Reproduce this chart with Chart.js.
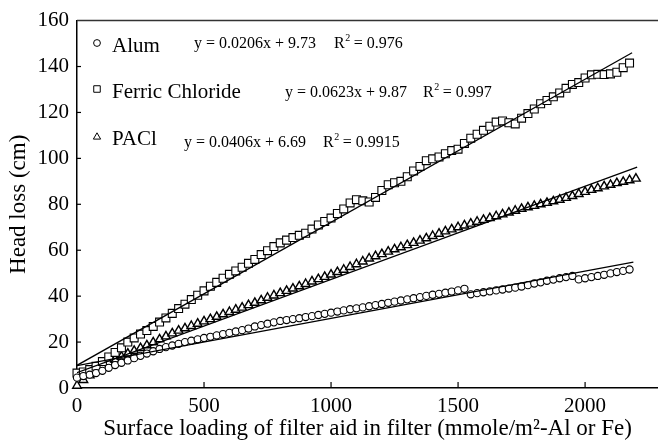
<!DOCTYPE html>
<html lang="en">
<head>
    <meta charset="UTF-8">
    <title>Head loss vs surface loading</title>
    <script src="https://cdn.jsdelivr.net/npm/chart.js"></script>
    <style>
        body { margin: 0; background: #fff; }
        #wrap { width: 658px; height: 446px; }
    </style>
</head>
<body>
    <div id="wrap"><canvas id="chart" width="658" height="446"></canvas></div>

    <script>
        // surface loading (mmole/m2) where readings were taken
        const loading = [
            0, 25, 50, 75, 100, 125, 150, 175,
            200, 225, 250, 275, 300, 325, 350, 375,
            400, 425, 450, 475, 500, 525, 550, 575,
            600, 625, 650, 675, 700, 725, 750, 775,
            800, 825, 850, 875, 900, 925, 950, 975,
            1000, 1025, 1050, 1075, 1100, 1125, 1150, 1175,
            1200, 1225, 1250, 1275, 1300, 1325, 1350, 1375,
            1400, 1425, 1450, 1475, 1500, 1525, 1550, 1575,
            1600, 1625, 1650, 1675, 1700, 1725, 1750, 1775,
            1800, 1825, 1850, 1875, 1900, 1925, 1950, 1975,
            2000, 2025, 2050, 2075, 2100, 2125, 2150, 2175,
            2200
        ];

        // head loss (cm)
        const alum = [
            4.5, 5.2, 5.8, 6.5, 7.5, 8.8, 10.0, 11.0,
            12.0, 13.0, 14.0, 15.0, 16.0, 17.0, 17.8, 18.5,
            19.2, 20.0, 20.6, 21.2, 21.8, 22.3, 22.9, 23.5,
            24.0, 24.6, 25.2, 25.9, 26.8, 27.4, 28.0, 28.6,
            29.2, 29.6, 30.0, 30.4, 30.9, 31.3, 31.8, 32.3,
            32.8, 33.3, 33.8, 34.3, 34.7, 35.1, 35.6, 36.1,
            36.6, 37.1, 37.6, 38.1, 38.6, 39.1, 39.6, 40.1,
            40.6, 41.0, 41.5, 42.0, 42.5, 43.2, 40.8, 41.3,
            41.7, 42.1, 42.5, 42.9, 43.3, 43.7, 44.2, 44.8,
            45.5, 46.0, 46.7, 47.2, 47.8, 48.3, 48.8, 47.3,
            47.8, 48.3, 48.8, 49.3, 49.9, 50.5, 51.0, 51.6,
            null
        ];
        const ferric = [
            6.5, 7.0, 8.0, 9.5, 11.5, 13.5, 15.5, 17.5,
            20.0, 21.8, 23.5, 25.0, 26.8, 28.7, 30.5, 32.5,
            34.6, 36.5, 38.5, 40.4, 42.3, 44.3, 46.0, 47.8,
            49.5, 51.0, 52.6, 54.3, 56.0, 58.1, 59.8, 61.6,
            63.2, 64.4, 65.5, 66.5, 67.4, 69.2, 71.0, 72.5,
            74.0, 76.0, 78.0, 80.6, 82.0, 81.5, 81.0, 83.0,
            86.0, 88.5, 89.4, 90.0, 92.0, 94.5, 96.5, 99.0,
            99.8, 100.6, 102.0, 103.4, 104.0, 106.5, 108.8, 110.5,
            112.2, 114.0, 115.8, 116.3, 115.5, 115.0, 117.5, 119.5,
            121.5, 123.8, 125.2, 126.8, 128.5, 130.5, 132.2, 133.0,
            135.0, 136.4, 136.6, 136.5, 136.8, 137.5, 139.5, 141.5,
            null
        ];
        const pacl = [
            1.0, 3.5, 5.5, 7.5, 9.5, 11.0, 12.4, 13.7,
            15.0, 16.2, 17.4, 18.6, 19.9, 21.2, 22.5, 23.8,
            25.0, 26.0, 27.0, 28.0, 29.0, 30.0, 31.0, 32.1,
            33.1, 34.1, 35.0, 36.1, 37.1, 38.2, 39.3, 40.3,
            41.3, 42.3, 43.3, 44.3, 45.3, 46.4, 47.4, 48.4,
            49.4, 50.5, 51.5, 52.7, 53.9, 55.1, 56.4, 57.4,
            58.3, 59.4, 60.4, 61.3, 62.2, 63.2, 64.2, 65.2,
            66.2, 67.2, 68.2, 69.1, 70.0, 70.8, 71.6, 72.4,
            73.2, 74.0, 74.8, 75.6, 76.4, 77.2, 78.0, 78.7,
            79.3, 80.0, 80.6, 81.3, 82.0, 82.8, 83.6, 84.5,
            85.4, 86.3, 87.0, 87.8, 88.5, 89.2, 89.8, 90.5,
            91.2
        ];

        // linear fits as printed on the chart: alum, ferric chloride, PACl
        const seriesNames = ['Alum', 'Ferric Chloride', 'PACl'];
        const fitSlope = [0.0206, 0.0623, 0.0406];
        const fitIntercept = [9.73, 9.87, 6.69];
        const fitR2 = ['0.976', '0.997', '0.9915'];
        const fitEnd = [2190, 2185, 2205];

        const yTicks = [0, 20, 40, 60, 80, 100, 120, 140, 160];
        const xTicks = [0, 500, 1000, 1500, 2000];

        const serif = "'Liberation Serif', 'Times New Roman', serif";
        const markerStyles = ['circle', 'rect', 'triangle'];
        const markerRadius = [3.6, 5.6, 5];
        const markerBorder = [1.1, 1.1, 1.4];

        function points(values) {
            return loading.map((x, i) => ({ x: x, y: values[i] }))
                .filter(p => p.y !== null);
        }

        function fitLine(i) {
            return [0, fitEnd[i]].map(x => ({ x: x, y: fitSlope[i] * x + fitIntercept[i] }));
        }

        const datasets = [alum, ferric, pacl].map((vals, i) => ({
            label: seriesNames[i],
            data: points(vals),
            pointStyle: markerStyles[i],
            pointRadius: markerRadius[i],
            pointBorderWidth: markerBorder[i],
            pointBorderColor: '#000',
            pointBackgroundColor: '#fff',
            showLine: false,
            clip: false,
            order: 2
        }));
        for (let i = 0; i < 3; i++) {
            datasets.push({
                label: seriesNames[i] + ' fit',
                data: fitLine(i),
                showLine: true,
                borderColor: '#000',
                borderWidth: 1.3,
                pointRadius: 0,
                order: 1
            });
        }

        // legend, equations, inside ticks and the top frame line
        const decorations = {
            id: 'decorations',
            afterDraw(chart) {
                const ctx = chart.ctx;
                const area = chart.chartArea;
                const xs = chart.scales.x;
                const ys = chart.scales.y;
                ctx.save();

                ctx.strokeStyle = '#333';
                ctx.lineWidth = 1.5;
                ctx.beginPath();
                ctx.moveTo(area.left, area.top);
                ctx.lineTo(area.right, area.top);
                ctx.stroke();

                ctx.strokeStyle = '#000';
                ctx.lineWidth = 1.2;
                yTicks.slice(1, -1).forEach(v => {
                    const py = ys.getPixelForValue(v);
                    ctx.beginPath();
                    ctx.moveTo(area.left - 1, py);
                    ctx.lineTo(area.left + 4, py);
                    ctx.stroke();
                });
                xTicks.slice(1).forEach(v => {
                    const px = xs.getPixelForValue(v);
                    ctx.beginPath();
                    ctx.moveTo(px, area.bottom);
                    ctx.lineTo(px, area.bottom - 6);
                    ctx.stroke();
                });

                const legendY = [43, 89, 137];
                const labelBase = [52, 98, 145];
                const eqX = [194, 285, 184];
                const eqBase = [48, 97, 147];
                const r2X = [334, 423, 323];
                for (let i = 0; i < 3; i++) {
                    ctx.fillStyle = '#fff';
                    ctx.strokeStyle = '#000';
                    ctx.lineWidth = 1;
                    Chart.helpers.drawPoint(ctx, {
                        pointStyle: markerStyles[i],
                        radius: [3.4, 4.6, 4.2][i],
                        borderWidth: 1
                    }, 97, legendY[i]);
                    ctx.fillStyle = '#000';
                    ctx.textBaseline = 'alphabetic';
                    ctx.textAlign = 'left';
                    ctx.font = '21px ' + serif;
                    ctx.fillText(seriesNames[i], 112, labelBase[i]);
                    ctx.font = '16px ' + serif;
                    ctx.fillText('y = ' + fitSlope[i].toFixed(4) + 'x + ' + fitIntercept[i].toFixed(2), eqX[i], eqBase[i]);
                    ctx.fillText('R', r2X[i], eqBase[i]);
                    const rw = ctx.measureText('R').width;
                    ctx.font = '10px ' + serif;
                    ctx.fillText('2', r2X[i] + rw + 0.5, eqBase[i] - 7);
                    ctx.font = '16px ' + serif;
                    ctx.fillText(' = ' + fitR2[i], r2X[i] + rw + 5, eqBase[i]);
                }
                ctx.restore();
            }
        };

        new Chart(document.getElementById('chart').getContext('2d'), {
            type: 'scatter',
            data: { datasets: datasets },
            plugins: [decorations],
            options: {
                responsive: false,
                animation: false,
                layout: { autoPadding: false, padding: { top: 17, right: 0, left: 0, bottom: 0 } },
                plugins: { legend: { display: false }, tooltip: { enabled: false } },
                scales: {
                    x: {
                        type: 'linear',
                        min: 0,
                        max: 2287,
                        afterBuildTicks: s => { s.ticks = xTicks.map(v => ({ value: v })); },
                        afterFit: s => { s.height = 58; },
                        grid: { display: false, drawTicks: false },
                        border: { display: true, color: '#000', width: 1.5 },
                        ticks: {
                            padding: 6,
                            color: '#000',
                            maxRotation: 0,
                            autoSkip: false,
                            callback: v => String(v),
                            font: { family: serif, size: 21 }
                        },
                        title: {
                            display: true,
                            text: 'Surface loading of filter aid in filter (mmole/m²-Al or Fe)',
                            color: '#000',
                            padding: { top: 0, bottom: 3 },
                            font: { family: serif, size: 23 }
                        }
                    },
                    y: {
                        min: 0,
                        max: 160,
                        afterBuildTicks: s => { s.ticks = yTicks.map(v => ({ value: v })); },
                        afterFit: s => { s.width = 77; },
                        grid: { display: false, drawTicks: false },
                        border: { display: true, color: '#000', width: 1.5 },
                        ticks: {
                            padding: 8,
                            color: '#000',
                            autoSkip: false,
                            callback: v => String(v),
                            font: { family: serif, size: 21 }
                        },
                        title: {
                            display: true,
                            text: 'Head loss (cm)',
                            color: '#000',
                            padding: { top: 5, bottom: 0 },
                            font: { family: serif, size: 23 }
                        }
                    }
                }
            }
        });
    </script>
</body>
</html>
